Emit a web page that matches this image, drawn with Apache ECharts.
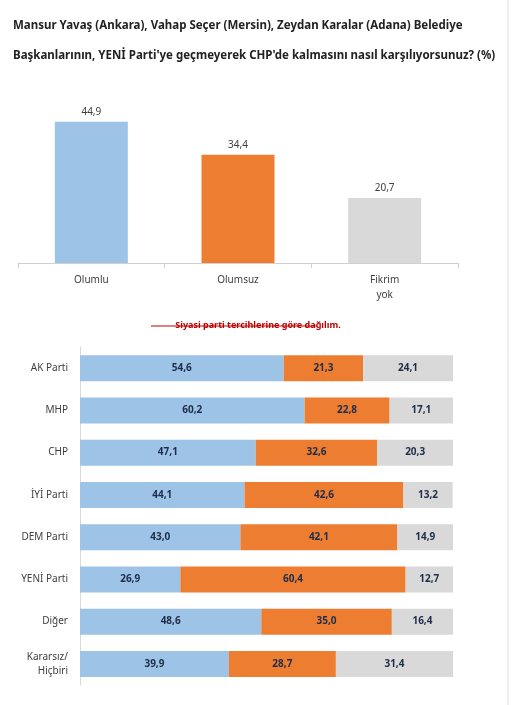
<!DOCTYPE html>
<html><head><meta charset="utf-8">
<script src="https://cdn.jsdelivr.net/npm/echarts@6/dist/echarts.min.js"></script>
<style>html,body{margin:0;padding:0;background:#fff}#c{width:516px;height:705px}</style>
</head><body><div id="c"></div>
<script>
const topCats = ['Olumlu','Olumsuz','Fikrim\nyok'];
const topVals = [44.9,34.4,20.7];
const parties = ['AK Parti','MHP','CHP','İYİ Parti','DEM Parti','YENİ Parti','Diğer','Kararsız/\nHiçbiri'];
const olumlu = [54.6,60.2,47.1,44.1,43.0,26.9,48.6,39.9];
const olumsuz = [21.3,22.8,32.6,42.6,42.1,60.4,35.0,28.7];
const fikrim = [24.1,17.1,20.3,13.2,14.9,12.7,16.4,31.4];
const blue='#9dc3e6', orange='#ed7d31', gray='#d9d9d9';
const fmt = p => p.value.toFixed(1).replace('.', ',');
const font = 'Noto Sans';
const stack = (name,data,color)=>({type:'bar',name,data,stack:'s',xAxisIndex:1,yAxisIndex:1,barWidth:26,
  itemStyle:{color},label:{show:true,position:'inside',formatter:fmt,color:'#1f2d4a',fontSize:10,fontWeight:'bold',fontFamily:font}});
const chart = echarts.init(document.getElementById('c'));
chart.setOption({
  animation:false,
  textStyle:{fontFamily:font},
  title:[{text:'Mansur Yavaş (Ankara), Vahap Seçer (Mersin), Zeydan Karalar (Adana) Belediye\nBaşkanlarının, YENİ Parti\'ye geçmeyerek CHP\'de kalmasını nasıl karşılıyorsunuz? (%)',
    left:8,top:6,textStyle:{fontSize:11.5,fontWeight:'bold',color:'#222',lineHeight:30,fontFamily:font}},
    {text:'Siyasi parti tercihlerine göre dağılım.',left:'center',top:316,
    textStyle:{fontSize:9,fontWeight:'bold',color:'#c00000',textDecoration:'underline',fontFamily:font}}],
  graphic:[{type:'line',shape:{x1:508,y1:0,x2:508,y2:705},style:{stroke:'#ddd',lineWidth:1}},
    {type:'line',shape:{x1:151,y1:326,x2:317,y2:326},style:{stroke:'#c00000',lineWidth:1}}],
  grid:[{left:18,right:58,top:90,bottom:442},{left:80,right:63,top:347,bottom:20}],
  xAxis:[{type:'category',data:topCats,gridIndex:0,axisLine:{lineStyle:{color:'#d0d0d0'}},
      axisTick:{show:true,length:5,lineStyle:{color:'#d0d0d0'}},
      axisLabel:{color:'#404040',fontSize:10,margin:10,lineHeight:15}},
    {type:'value',gridIndex:1,min:0,max:100,show:false}],
  yAxis:[{type:'value',gridIndex:0,min:0,max:55,show:false},
    {type:'category',gridIndex:1,data:parties,inverse:true,
      axisLine:{lineStyle:{color:'#d9d9d9'}},axisTick:{show:false},
      axisLabel:{color:'#404040',fontSize:10,margin:12,lineHeight:14}}],
  series:[
    {type:'bar',data:topVals.map((v,i)=>({value:v,itemStyle:{color:[blue,orange,gray][i]}})),barWidth:73,
     xAxisIndex:0,yAxisIndex:0,label:{show:true,position:'top',formatter:fmt,color:'#404040',fontSize:10}},
    stack('Olumlu',olumlu,blue),stack('Olumsuz',olumsuz,orange),stack('Fikrim yok',fikrim,gray)
  ]
});
</script></body></html>
